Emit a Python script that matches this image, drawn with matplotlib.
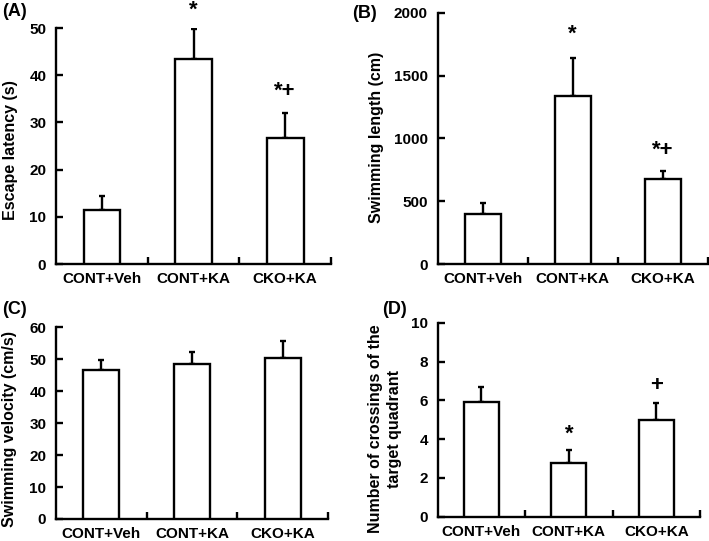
import matplotlib
matplotlib.use("Agg")
import matplotlib.pyplot as plt
import numpy as np

plt.rcParams['font.family'] = ['Liberation Sans', 'DejaVu Sans']
plt.rcParams['font.weight'] = 'bold'

categories = ["CONT+Veh", "CONT+KA", "CKO+KA"]

escape_mean = [11.4, 43.4, 26.6]
escape_err = [3.0, 6.4, 5.4]
escape_sig = ["", "*", "*+"]

length_mean = [395, 1334, 679]
length_err = [88, 308, 64]
length_sig = ["", "*", "*+"]

velocity_mean = [46.6, 48.4, 50.3]
velocity_err = [3.2, 3.8, 5.5]
velocity_sig = ["", "", ""]

cross_mean = [5.91, 2.78, 4.98]
cross_err = [0.79, 0.66, 0.90]
cross_sig = ["", "*", "+"]

W, H = 709, 541
fig = plt.figure(figsize=(W / 100, H / 100), dpi=100)

def rect(l, r, b, t):
    return [l / W, (H - b) / H, (r - l) / W, (b - t) / H]

panels = [
    dict(pos=rect(56, 331, 264, 28), mean=escape_mean, err=escape_err, sig=escape_sig,
         ylim=(0, 50), yticks=np.arange(0, 51, 10), ylabel="Escape latency (s)",
         lab="(A)", labxy=(2, 12), ylx=18, yly=150, offs=[0, 6, 8]),
    dict(pos=rect(437.7, 707.7, 264, 12.7), mean=length_mean, err=length_err, sig=length_sig,
         ylim=(0, 2000), yticks=np.arange(0, 2001, 500), ylabel="Swimming length (cm)",
         lab="(B)", labxy=(352, 13), ylx=384, yly=137, offs=[0, 9, 7]),
    dict(pos=rect(56, 328, 519, 327.3), mean=velocity_mean, err=velocity_err, sig=velocity_sig,
         ylim=(0, 60), yticks=np.arange(0, 61, 10), ylabel="Swimming velocity (cm/s)",
         lab="(C)", labxy=(2, 309), ylx=17, yly=429, offs=[0, 0, 0]),
    dict(pos=rect(437.7, 700, 516.7, 322.7), mean=cross_mean, err=cross_err, sig=cross_sig,
         ylim=(0, 10), yticks=np.arange(0, 11, 2),
         ylabel="Number of crossings of the\ntarget quadrant",
         lab="(D)", labxy=(382, 309), ylx=402, yly=429, offs=[0, 4, 5]),
]

x = np.arange(1, len(categories) + 1)
for p in panels:
    ax = fig.add_axes(p["pos"])
    ax.bar(x, p["mean"], width=0.40, color="white", edgecolor="black", linewidth=1.7, zorder=3)
    ax.errorbar(x, p["mean"], yerr=[np.zeros(len(x)), p["err"]], fmt="none",
                ecolor="black", elinewidth=1.7, capsize=2.3, capthick=1.7, zorder=2)
    for xi, m, e, s, o in zip(x, p["mean"], p["err"], p["sig"], p["offs"]):
        if s:
            ax.annotate(s, (xi, m + e), xytext=(0, o), textcoords="offset points",
                        ha="center", va="bottom", fontsize=16, fontweight="bold",
                        annotation_clip=False)
    ax.set_xlim(0.5, 3.5)
    ax.set_ylim(*p["ylim"])
    ax.set_yticks(p["yticks"])
    ax.set_xticks(x)
    ax.set_xticklabels(categories, fontsize=11, fontweight="bold")
    ax.set_xticks([1.5, 2.5, 3.5], minor=True)
    ax.tick_params(axis="x", which="major", length=0, pad=6)
    ax.tick_params(axis="x", which="minor", direction="in", length=5, width=1.7)
    ax.tick_params(axis="y", direction="in", length=5, width=1.7, labelsize=11, pad=7)
    for lbl in ax.get_yticklabels():
        lbl.set_fontweight("bold")
    for sp in ["top", "right"]:
        ax.spines[sp].set_visible(False)
    for sp in ["left", "bottom"]:
        ax.spines[sp].set_linewidth(1.7)
    ax.set_ylabel(p["ylabel"], fontsize=11.5, fontweight="bold", linespacing=1.3)
    axl = p["pos"][0] * W
    axw = p["pos"][2] * W
    axb = (1 - p["pos"][1]) * H
    axh = p["pos"][3] * H
    ax.yaxis.set_label_coords((p["ylx"] - axl) / axw, (axb - p["yly"]) / axh)
    fig.text(p["labxy"][0] / W, 1 - p["labxy"][1] / H, p["lab"], fontsize=13,
             fontweight="bold", ha="left", va="center")

fig.savefig("out.png", dpi=100)
